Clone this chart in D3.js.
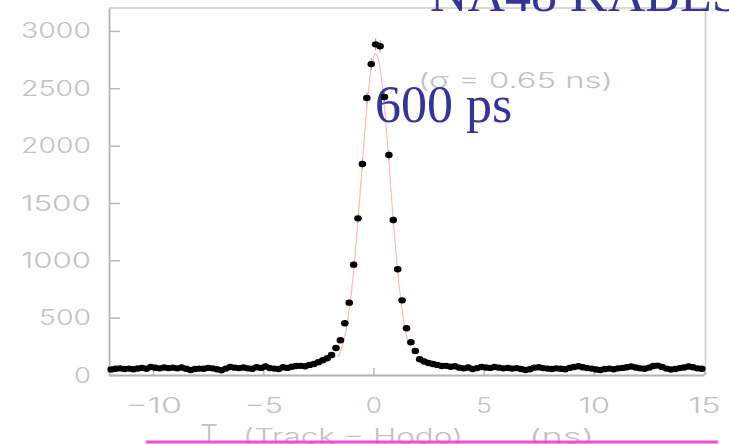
<!DOCTYPE html>
<html>
<head>
<meta charset="utf-8">
<script src="https://cdn.jsdelivr.net/npm/d3@7/dist/d3.min.js"></script>
<style>
  html, body { margin: 0; padding: 0; background: #fff; }
  svg { display: block; }
  .grey { font-family: Inter, "Liberation Sans", Arial, sans-serif; font-weight: 300; fill: #c2c2c2; }
  .slide { font-family: "Liberation Serif", "Times New Roman", serif; fill: #343499; }
</style>
</head>
<body>
<svg id="chart" width="729" height="444"></svg>
<script>
// Histogram of T(Track − Hodo): counts per 0.2 ns bin, bins from -12 ns to 15 ns
const binLow = -12;
const binWidth = 0.2;
const counts = [
  48, 55, 58, 52, 56, 50, 57, 62, 55, 70,     // -11.9 .. -10.1
  63, 58, 66, 60, 64, 58, 66, 55, 44, 52,     // -9.9 .. -8.1
  56, 54, 62, 58, 50, 42, 56, 70, 64, 60,     // -7.9 .. -6.1
  66, 58, 54, 68, 62, 74, 60, 56, 52, 68,     // -5.9 .. -4.1
  62, 72, 78, 80, 76, 88, 96, 112, 128, 146,  // -3.9 .. -2.1
  174, 235, 303, 451, 631, 962, 1366, 1840, 2415, 2711, // -1.9 .. -0.1
  2883, 2866, 2424, 1918, 1351, 922, 651, 408, 285, 209, // 0.1 .. 1.9
  137, 118, 104, 96, 88, 78, 80, 72, 76, 64,  // 2.1 .. 3.9
  58, 66, 52, 60, 70, 66, 62, 70, 64, 58,     // 4.1 .. 5.9
  62, 56, 60, 52, 44, 50, 64, 68, 60, 56,     // 6.1 .. 7.9
  52, 58, 54, 50, 62, 70, 76, 68, 60, 56,     // 8.1 .. 9.9
  48, 44, 52, 56, 50, 58, 62, 68, 74, 66,     // 10.1 .. 11.9
  58, 54, 64, 78, 82, 70, 56, 48, 52, 60,     // 12.1 .. 13.9
  66, 74, 68, 58, 54                          // 14.1 .. 14.9
];

// Gaussian fit on the peak (plus flat background)
const fitAmplitude = 2730;
const fitMean = 0.1;
const fitSigma = 0.65;
const fitBackground = 70;
const fitRange = [-1.6, 1.6];

// Axis ticks
const xTicks = [-10, -5, 0, 5, 10, 15];
const yTicks = [0, 500, 1000, 1500, 2000, 2500, 3000];

// Text
const titleText = "NA48 KABES";
const resolutionText = "600 ps";
const sigmaText = "(σ = 0.65 ns)";
const xTitleMain = "T";
const xTitleSub = "(Track − Hodo)";
const xTitleUnit = "(ns)";

const points = counts.map((c, i) => ({ t: binLow + binWidth * (i + 0.5), n: c }));

const svg = d3.select("#chart");
const plotLeft = 109, plotRight = 704, plotTop = 8, plotBottom = 375;

const x = d3.scaleLinear().domain([-12, 15]).range([plotLeft, plotRight]);
const y = d3.scaleLinear().domain([0, 3200]).range([plotBottom, plotTop]);

// the plot's label font is a broad, light face: stretch glyphs horizontally
const stretch = 1.25;
function widen(sel, width) {
  const cur = +sel.attr("x") || 0;
  sel.attr("transform", `scale(${stretch},1)`).attr("x", cur / stretch);
  if (width) sel.attr("textLength", width / stretch).attr("lengthAdjust", "spacingAndGlyphs");
}

// frame (top and right)
svg.append("path")
  .attr("d", `M${plotLeft},${plotTop}H${plotRight + 1.5}V${plotBottom}`)
  .attr("fill", "none").attr("stroke", "#cdcdcd").attr("stroke-width", 1.6);

// y axis, ticks pointing inward
const yAxis = svg.append("g")
  .attr("transform", `translate(${plotLeft},0)`)
  .call(d3.axisLeft(y).tickValues(yTicks).tickSizeInner(-11).tickSizeOuter(0)
    .tickPadding(18).tickFormat(d3.format("d")));

// x axis, ticks pointing inward
const xAxis = svg.append("g")
  .attr("transform", `translate(0,${plotBottom})`)
  .call(d3.axisBottom(x).tickValues(xTicks).tickSizeInner(-7).tickSizeOuter(0)
    .tickPadding(23));

[yAxis, xAxis].forEach(g => {
  g.select(".domain").attr("stroke", "#b4b4b4").attr("stroke-width", 1.8);
  g.selectAll(".tick line").attr("stroke", "#b4b4b4").attr("stroke-width", 1.4);
  g.selectAll(".tick text")
    .attr("class", "grey")
    .attr("fill", null)
    .attr("font-family", null)
    .attr("font-size", null);
});

yAxis.selectAll(".tick text")
  .style("font-size", "22px")
  .each(function () {
    const s = d3.select(this).text();
    widen(d3.select(this), s.length > 1 ? s.length * 18 - 2 : 0);
  });

xAxis.selectAll(".tick text")
  .style("font-size", "21px")
  .each(function () {
    const s = d3.select(this).text();
    const widths = { "−10": 57, "−5": 38, "10": 31, "15": 32 };
    widen(d3.select(this), widths[s] || 0);
  });

// fit curve
const fit = t => fitBackground + fitAmplitude * Math.exp(-0.5 * ((t - fitMean) / fitSigma) ** 2);
const fitPts = d3.range(fitRange[0], fitRange[1] + 1e-9, 0.02).map(t => [t, fit(t)]);
svg.append("path")
  .datum(fitPts)
  .attr("d", d3.line().x(d => x(d[0])).y(d => y(d[1])))
  .attr("fill", "none")
  .attr("stroke", "#f6bdb6")
  .attr("stroke-width", 1.2);

// sigma annotation
widen(svg.append("text")
  .attr("class", "grey")
  .attr("x", 418).attr("y", 88)
  .style("font-size", "21px")
  .text(sigmaText), 195);

// slide annotations
svg.append("text")
  .attr("class", "slide")
  .attr("x", 375).attr("y", 122)
  .style("font-size", "52px")
  .text(resolutionText);

svg.append("text")
  .attr("class", "slide")
  .attr("x", 430).attr("y", 10.5)
  .style("font-size", "52px")
  .text(titleText);

// statistical error bars
svg.append("g")
  .selectAll("line")
  .data(points)
  .join("line")
  .attr("x1", d => x(d.t)).attr("x2", d => x(d.t))
  .attr("y1", d => y(d.n + Math.sqrt(d.n))).attr("y2", d => y(d.n - Math.sqrt(d.n)))
  .attr("stroke", "#9a9a9a").attr("stroke-width", 1);

// data points
svg.append("g")
  .selectAll("ellipse")
  .data(points)
  .join("ellipse")
  .attr("cx", d => x(d.t))
  .attr("cy", d => y(d.n))
  .attr("rx", 3.8).attr("ry", 3.2)
  .attr("fill", "#000");

// x-axis title
widen(svg.append("text").attr("class", "grey")
  .attr("x", 200).attr("y", 443)
  .style("font-size", "26px")
  .text(xTitleMain), 18);
widen(svg.append("text").attr("class", "grey")
  .attr("x", 243).attr("y", 444)
  .style("font-size", "21px")
  .text(xTitleSub), 220);
widen(svg.append("text").attr("class", "grey")
  .attr("x", 529).attr("y", 444)
  .style("font-size", "21px")
  .text(xTitleUnit), 65);

// underline
svg.append("line")
  .attr("x1", 146).attr("x2", 718)
  .attr("y1", 442).attr("y2", 442)
  .attr("stroke", "#ee4ddd").attr("stroke-width", 3);
</script>
</body>
</html>
